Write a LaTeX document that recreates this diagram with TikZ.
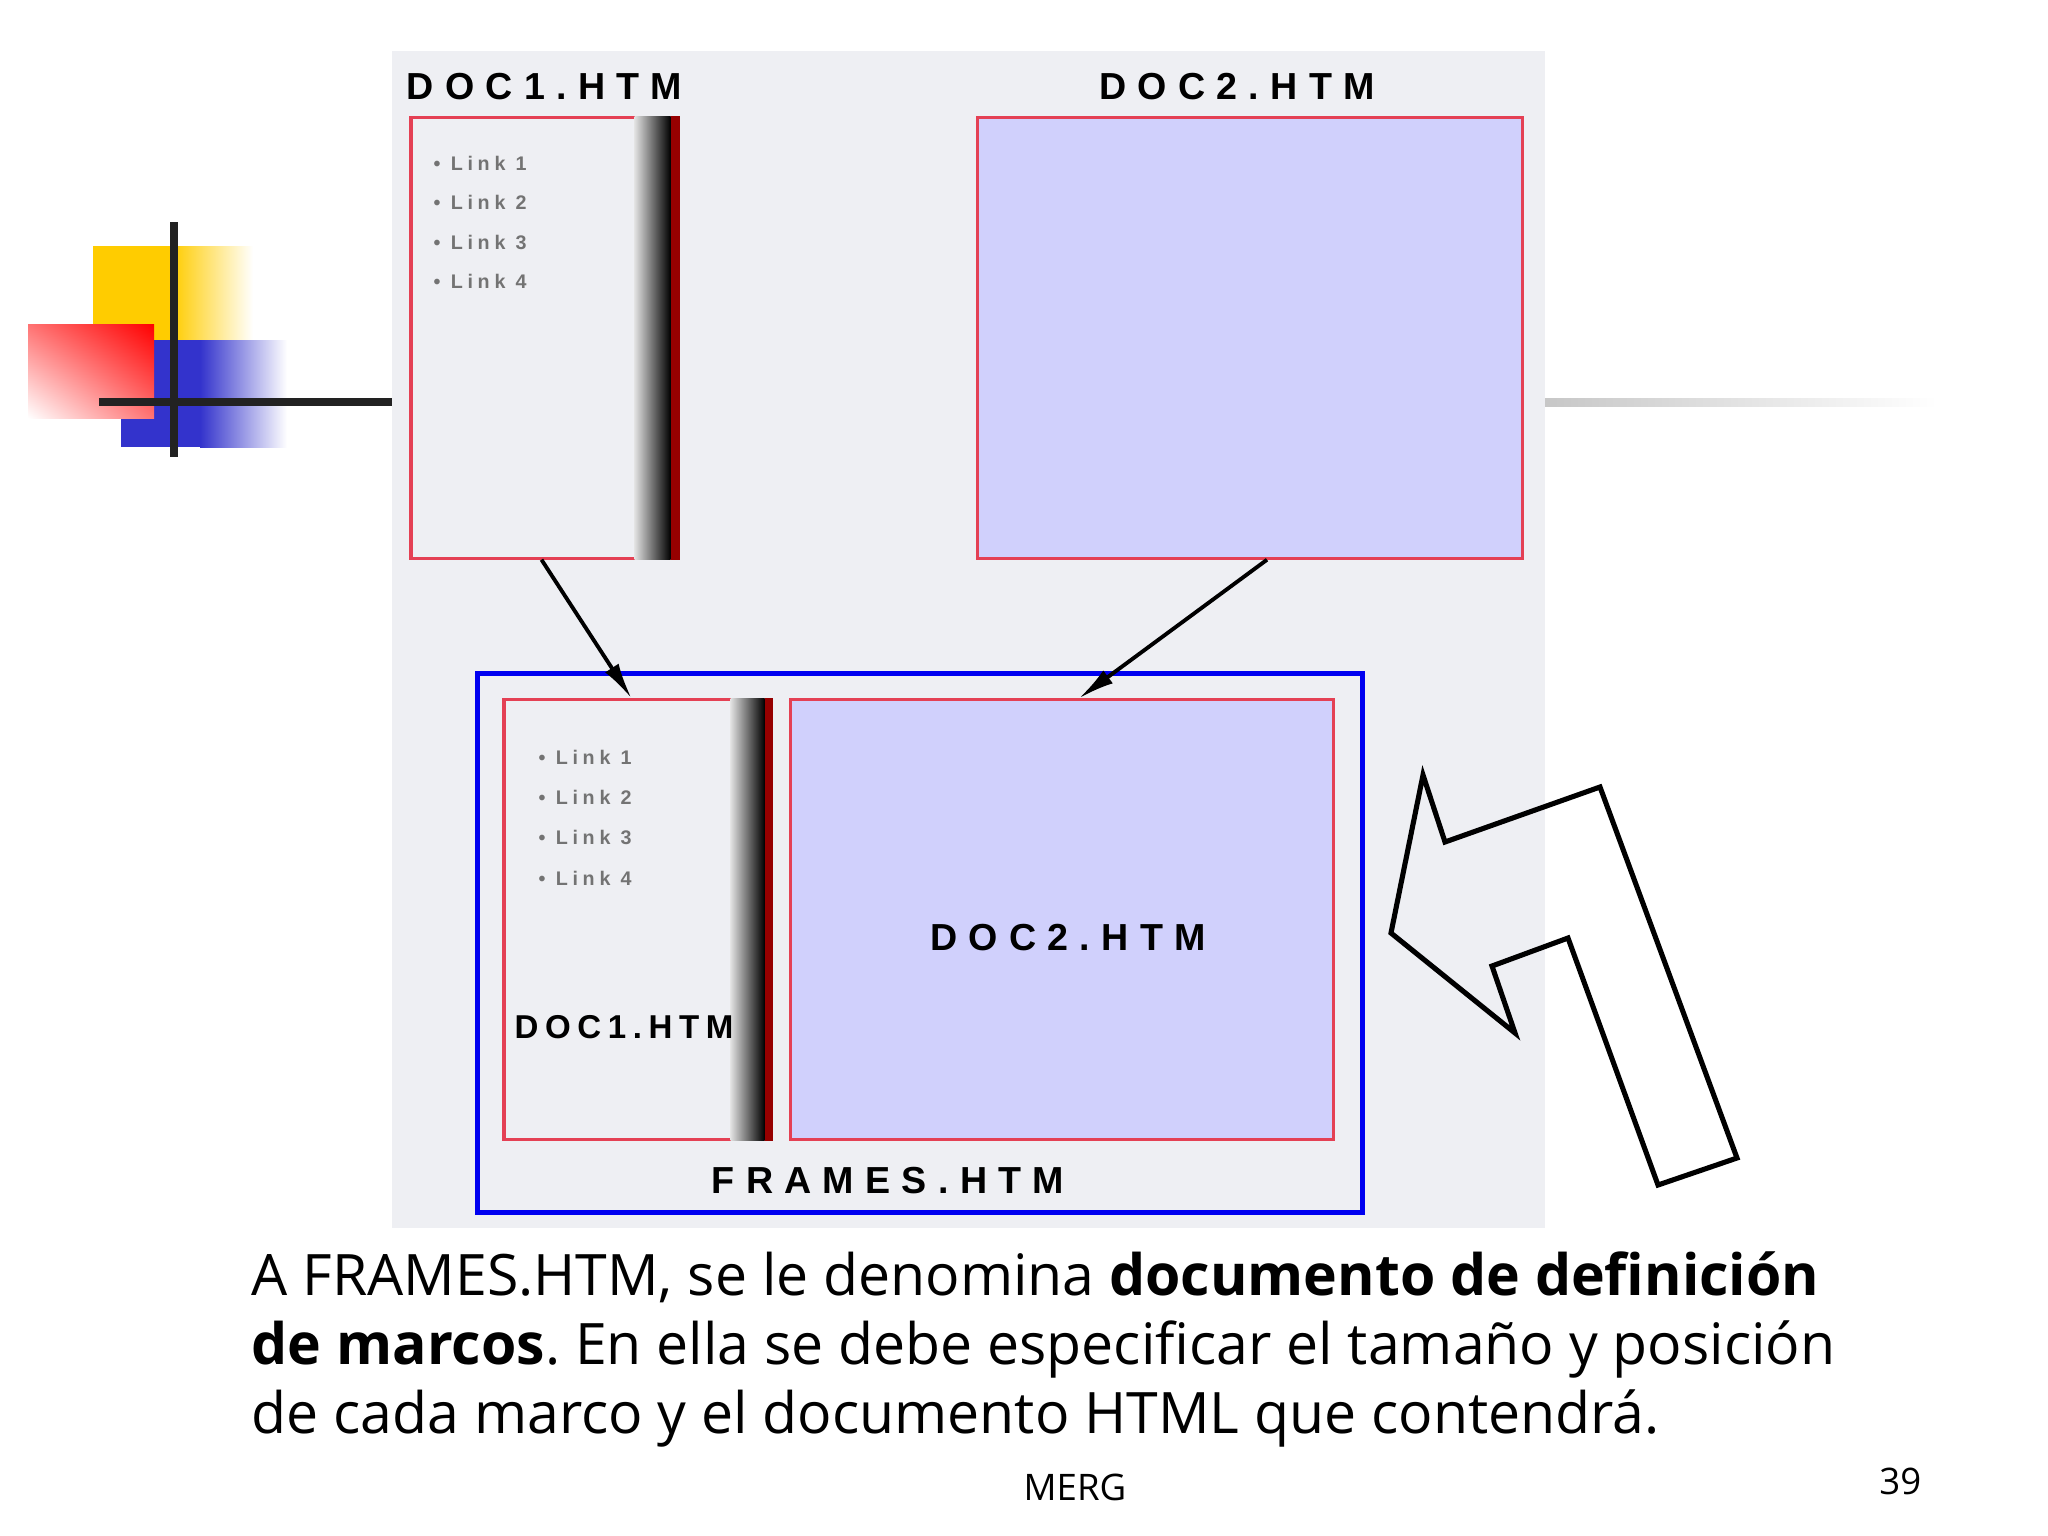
\documentclass[tikz,border=0pt]{standalone}
\usepackage{fontspec}
\usepackage{xcolor}
\usepackage{tikz}
\usetikzlibrary{positioning}
\usetikzlibrary{arrows.meta}
\usetikzlibrary{shadings}
\newfontfamily\pixfont{Liberation Sans}[LetterSpace=30]
\newfontfamily\smallpixfont{Liberation Sans}[LetterSpace=20]
\newfontfamily\linkfont{Liberation Sans}[LetterSpace=24]
\newfontfamily\capfont{Open Sans}
\definecolor{panelgray}{RGB}{238,239,243}
\definecolor{docred}{RGB}{228,64,84}
\definecolor{striped}{RGB}{150,0,0}
\definecolor{lavender}{RGB}{208,208,252}
\definecolor{frameblue}{RGB}{0,0,240}
\definecolor{logoyellow}{RGB}{255,204,0}
\definecolor{logoblue}{RGB}{51,51,204}
\definecolor{logoline}{RGB}{34,34,34}
\frenchspacing

\begin{document}
\begin{tikzpicture}[x=0.01cm, y=-0.01cm,
docbox/.style={rectangle, draw=docred, line width=0.9pt, inner sep=0pt, fill=panelgray},
mainbox/.style={docbox, fill=lavender},
framebox/.style={rectangle, draw=frameblue, line width=1.4pt, inner sep=0pt},
titletext/.style={inner sep=0pt, font=\pixfont\bfseries\fontsize{10.7}{12}\selectfont},
labeltext/.style={inner sep=0pt, font=\smallpixfont\bfseries\fontsize{9.4}{11}\selectfont},
linktext/.style={inner sep=0pt, anchor=west, text=black!55, font=\linkfont\bfseries\fontsize{5.6}{7}\selectfont},
captiontext/.style={inner sep=0pt, align=left, font=\capfont\fontsize{16.25}{19.5}\selectfont},
foottext/.style={inner sep=0pt, font=\capfont\fontsize{10.4}{12}\selectfont},
linkarrow/.style={line width=1.1pt, -{Latex[length=0.36cm, width=0.16cm]}},
bigarrow/.style={line width=1.45pt, line join=miter},
]
\useasboundingbox (0,0) rectangle (2048,1536);

%Logo
\fill[logoyellow] (93,246) rectangle (172,340);
\shade[left color=logoyellow, right color=white] (172,246) rectangle (253,340);
\fill[logoblue] (121,340) rectangle (200,447);
\shade[left color=logoblue, right color=white] (200,340) rectangle (287,447);
\shade[upper right=red, lower left=white, upper left=red!55!white, lower right=red!55!white] (28,324) rectangle (154,418);
\draw[logoline, line width=2pt] (174,222) -- (174,457);
\draw[logoline, line width=2pt] (99,402) -- (392,402);
\shade[left color=black!22, right color=white] (1545,398) rectangle (1937,406);

%Panel
\fill[panelgray] (392,51) rectangle (1545,1228);

%Nodes
\node[docbox, minimum width=2.67cm, minimum height=4.40cm]	(doc1)	at (544.5,338)	{};
\node[mainbox, minimum width=5.44cm, minimum height=4.40cm]	(doc2)	at (1250,338)	{};
\node[titletext]	(doc1title)	[above=0.16cm of doc1]	{DOC1.HTM};
\node[titletext]	(doc2title)	[above=0.16cm of doc2, xshift=-0.13cm]	{DOC2.HTM};
\node[framebox, minimum width=8.84cm, minimum height=5.38cm]	(frames)	at (920,943)	{};
\node[docbox, minimum width=2.67cm, minimum height=4.39cm]	(in1)	at (637.5,919.5)	{};
\node[mainbox, minimum width=5.42cm, minimum height=4.39cm]	(in2)	at (1062,919.5)	{};

%Scroll strips
\shade[left color=black!12, right color=black] ([xshift=-0.45cm]doc1.north east) rectangle ([xshift=-0.09cm]doc1.south east);
\fill[striped] ([xshift=-0.09cm]doc1.north east) rectangle (doc1.south east);
\shade[left color=black!12, right color=black] ([xshift=-0.42cm]in1.north east) rectangle ([xshift=-0.08cm]in1.south east);
\fill[striped] ([xshift=-0.08cm]in1.north east) rectangle (in1.south east);

\node[labeltext]	(in1label)	at (624,1027)	{DOC1.HTM};
\node[titletext]	(in2label)	at (1068,938)	{DOC2.HTM};
\node[titletext]	(frameslabel)	[above=0.2cm of frames.south, xshift=-0.32cm]	{FRAMES.HTM};

\node[linktext]	(link1)	at (433,163)	{• Link 1};
\node[linktext]	(link2)	[below=0.39cm of link1.west, anchor=west]	{• Link 2};
\node[linktext]	(link3)	[below=0.40cm of link2.west, anchor=west]	{• Link 3};
\node[linktext]	(link4)	[below=0.39cm of link3.west, anchor=west]	{• Link 4};
\node[linktext]	(inlink1)	at (538,757)	{• Link 1};
\node[linktext]	(inlink2)	[below=0.40cm of inlink1.west, anchor=west]	{• Link 2};
\node[linktext]	(inlink3)	[below=0.40cm of inlink2.west, anchor=west]	{• Link 3};
\node[linktext]	(inlink4)	[below=0.41cm of inlink3.west, anchor=west]	{• Link 4};

\node[captiontext, anchor=base west]	(caption)	at (251,1433)	{A FRAMES.HTM, se le denomina \textbf{documento de definición}\\\textbf{de marcos}. En ella se debe especificar el tamaño y posición\\de cada marco y el documento HTML que contendrá.};
\node[foottext, anchor=base]	(merg)	at (1075,1500)	{MERG};
\node[foottext, anchor=base east]	(page)	at (1922,1494)	{39};

%Lines
\draw[linkarrow] ([xshift=-0.03cm]doc1.south) -- ([xshift=-0.06cm]in1.north);
\draw[linkarrow] ([xshift=0.17cm]doc2.south) -- ([xshift=0.17cm]in2.north);

%Big arrow
\draw[bigarrow] (1423,775) -- (1445,842) -- (1600,787) -- (1737,1158) -- (1658,1185) -- (1568,938) -- (1492,966) -- (1515,1033) -- (1391,933) -- cycle;
\end{tikzpicture}
\end{document}
